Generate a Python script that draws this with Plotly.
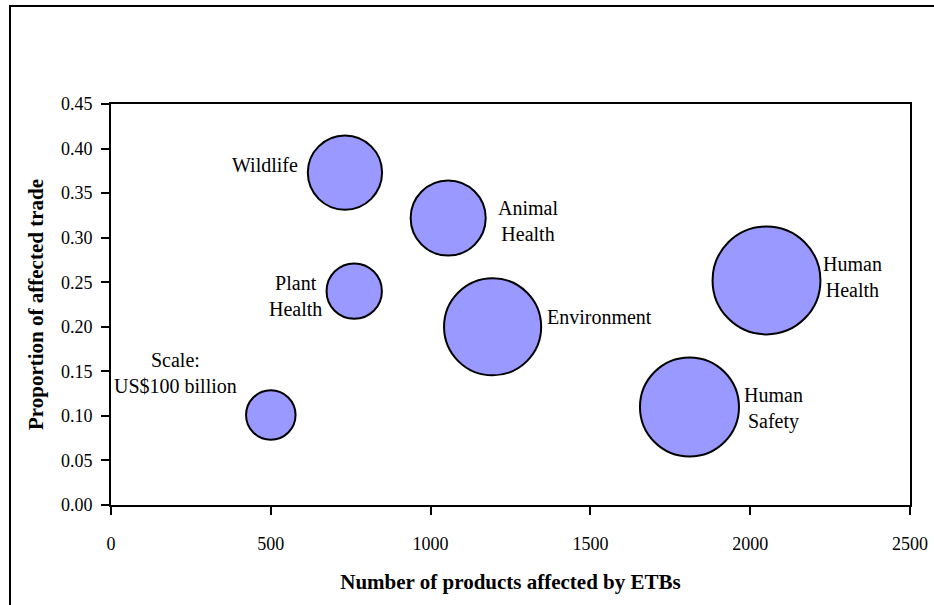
import plotly.graph_objects as go

# Trade-barrier categories: products affected, share of affected trade, trade value (US$ bn)
categories = ["Wildlife", "Animal Health", "Plant Health", "Environment",
              "Scale", "Human Safety", "Human Health"]
products = [732, 1055, 761, 1194, 500, 1810, 2051]
proportion = [0.373, 0.322, 0.240, 0.200, 0.101, 0.110, 0.252]
trade_value = [225, 230, 125, 385, 100, 400, 475]

point_labels = ["Wildlife", "Animal<br>Health", "Plant<br>Health", "Environment",
                "Scale:<br>US$100 billion", "Human<br>Safety", "Human<br>Health"]

x_ticks = [0, 500, 1000, 1500, 2000, 2500]
y_ticks = [0.00, 0.05, 0.10, 0.15, 0.20, 0.25, 0.30, 0.35, 0.40, 0.45]

# label placement relative to each bubble centre (pixels)
label_offsets = {
    "Wildlife": (-45, 8, "right"),
    "Animal Health": (80, -3, "center"),
    "Plant Health": (-59, -5, "center"),
    "Environment": (52, 10, "left"),
    "Scale": (-95, 42, "center"),
    "Human Safety": (84, -2, "center"),
    "Human Health": (86, 3, "center"),
}

FONT = "Liberation Serif, Times New Roman, serif"
W, H = 934, 605
L, R, T, B = 111, 24, 104, 100

fig = go.Figure()
fig.add_trace(go.Scatter(
    x=products, y=proportion, mode="markers",
    marker=dict(size=trade_value, sizemode="area", sizeref=2 * 100 / 49.5 ** 2,
                color="#9999FF", opacity=1,
                line=dict(color="black", width=2)),
    hoverinfo="skip", showlegend=False,
))

for cat, lab, xv, yv in zip(categories, point_labels, products, proportion):
    dx, dy, anchor = label_offsets[cat]
    fig.add_annotation(x=xv, y=yv, xref="x", yref="y", text=lab, showarrow=False,
                       xshift=dx, yshift=dy, xanchor=anchor, yanchor="middle",
                       align="center", font=dict(family=FONT, size=20, color="black"))

# outer chart-area frame (runs off the right and bottom edges)
pw, ph = W - L - R, H - T - B
def px_to_paper_x(px):
    return (px - L) / pw
def px_to_paper_y(py):
    return (H - B - py) / ph

fig.add_shape(type="rect", xref="paper", yref="paper",
              x0=px_to_paper_x(10), x1=px_to_paper_x(W + 20),
              y0=px_to_paper_y(H + 20), y1=px_to_paper_y(6),
              line=dict(color="black", width=2), fillcolor="rgba(0,0,0,0)", layer="below")

axis_common = dict(showline=True, linecolor="black", linewidth=2, mirror=True,
                   ticks="outside", ticklen=8, tickwidth=1.5, tickcolor="black",
                   showgrid=False, zeroline=False, automargin=False,
                   tickfont=dict(family=FONT, size=18, color="black"))

fig.update_xaxes(range=[0, 2500], tickvals=x_ticks, ticktext=[str(v) for v in x_ticks],
                 ticklabelstandoff=13,
                 title=dict(text="<b>Number of products affected by ETBs</b>",
                            font=dict(family=FONT, size=21, color="black"), standoff=22),
                 **axis_common)
fig.update_yaxes(range=[0, 0.45], tickvals=y_ticks, ticktext=[f"{v:.2f}" for v in y_ticks],
                 ticklabelstandoff=5,
                 title=dict(text="<b>Proportion of affected trade</b>",
                            font=dict(family=FONT, size=21, color="black"), standoff=12),
                 **axis_common)

fig.update_layout(width=W, height=H, margin=dict(l=L, r=R, t=T, b=B),
                  paper_bgcolor="white", plot_bgcolor="white")

fig.write_html("out.html")
